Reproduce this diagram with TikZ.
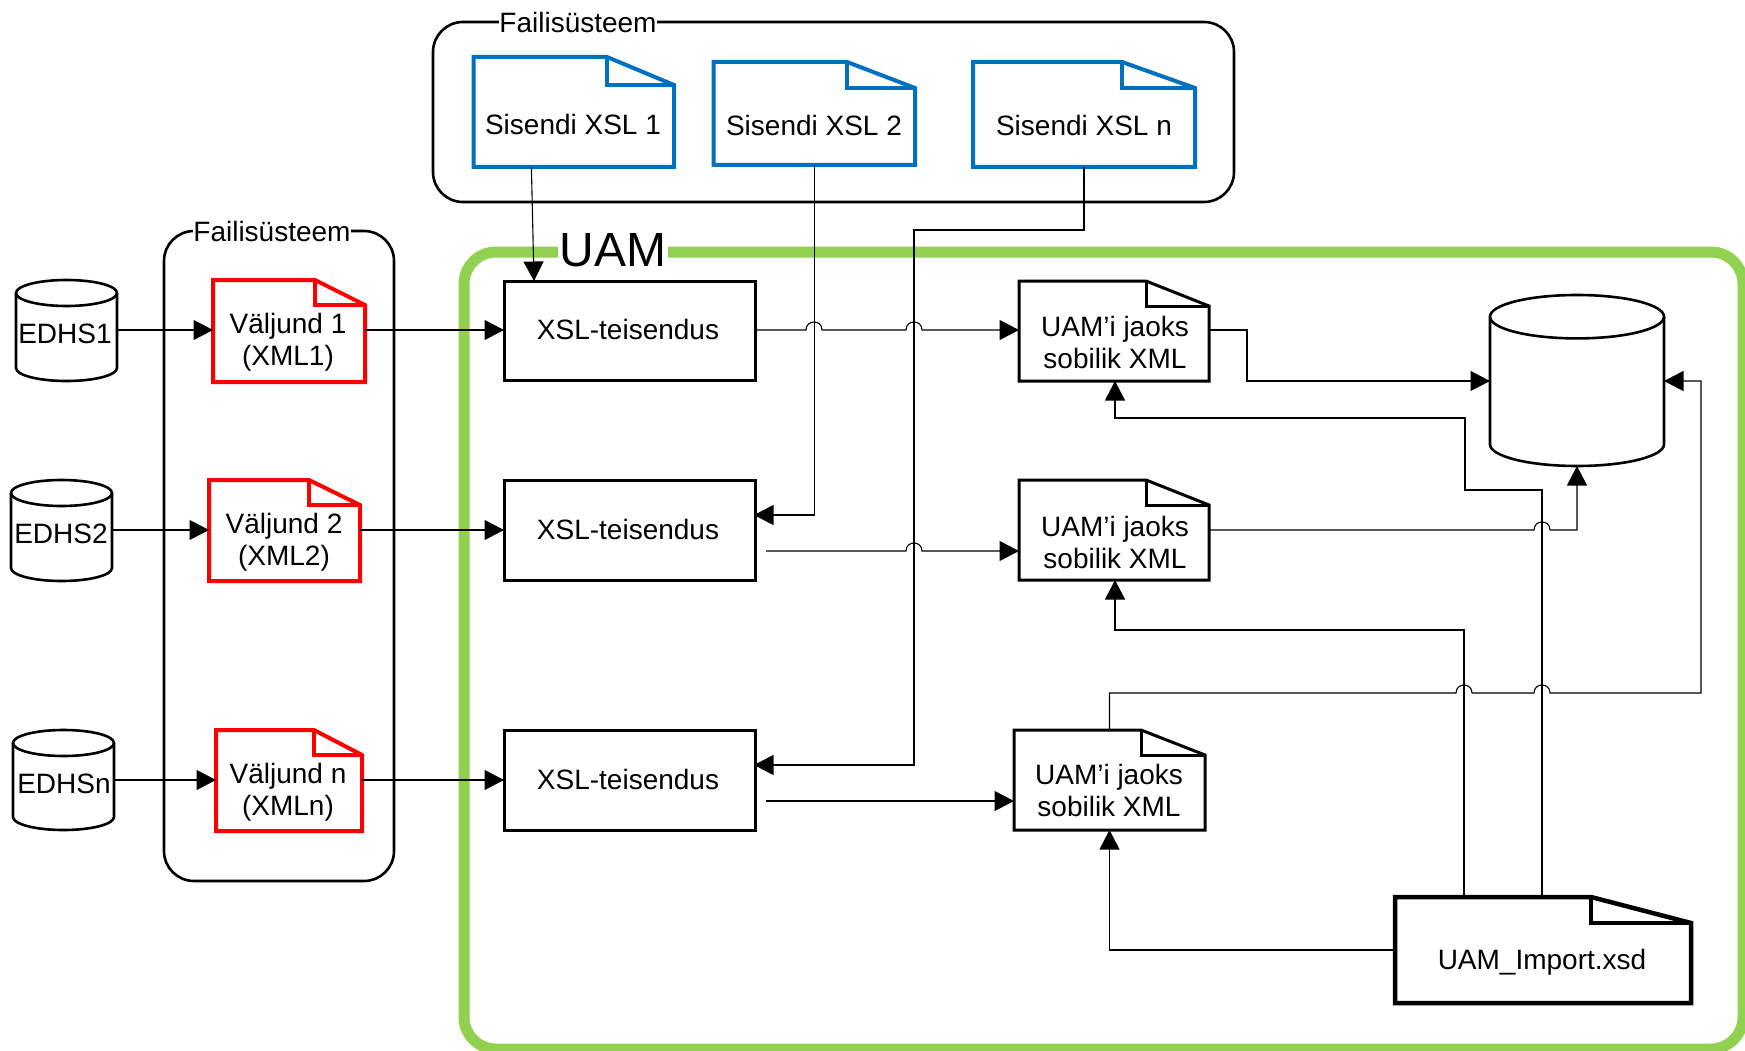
\documentclass[tikz,border=0pt]{standalone}
\usepackage{fontspec}
\setmainfont{Liberation Sans}
\usetikzlibrary{arrows.meta,fit}
\definecolor{uamgreen}{HTML}{92D050}
\definecolor{xslblue}{HTML}{0070C0}
\tikzset{
  x=1pt,y=-1pt,
  conn/.style={draw=black,line width=1.1pt},
  arr/.style={conn,-{Triangle[length=19.5pt,width=20pt]}},
  frame/.style={draw=black,line width=2.6pt,rounded corners=30pt},
  holder/.style={inner sep=0pt,outer sep=0pt},
  txt/.style={font=\fontsize{28}{32}\selectfont,align=center,inner sep=0pt},
  reddoc/.style={draw=red,line width=4pt,line join=miter},
  bluedoc/.style={draw=xslblue,line width=4pt,line join=miter},
  blackdoc/.style={draw=black,line width=3pt,line join=miter},
  bigdoc/.style={draw=black,line width=4.5pt,line join=miter},
  xslbox/.style={draw=black,line width=3pt,holder},
  cyl/.style={draw=black,line width=2.6pt},
}
% #1 name, #2 x1, #3 y1, #4 x2, #5 y2, #6 fold x, #7 fold y, #8 style
\newcommand{\docshape}[8]{%
  \coordinate (#1nw) at (#2,#3);
  \coordinate (#1se) at (#4,#5);
  \node[holder,fit=(#1nw)(#1se)] (#1) {};
  \draw[#8] (#2,#3) -- (#6,#3) -- (#4,#7) -- (#4,#5) -- (#2,#5) -- cycle;
  \draw[#8] (#6,#3) -- (#6,#7) -- (#4,#7);
}
% #1 name, #2 x1, #3 y1, #4 x2, #5 y2, #6 ellipse half height
\newcommand{\cylshape}[6]{%
  \coordinate (#1nw) at (#2,#3);
  \coordinate (#1se) at (#4,#5);
  \node[holder,fit=(#1nw)(#1se)] (#1) {};
  \pgfmathsetmacro{\cylM}{(#2+#4)/2}%
  \pgfmathsetmacro{\cylL}{\cylM-(#4-#2)*0.28}%
  \pgfmathsetmacro{\cylR}{\cylM+(#4-#2)*0.28}%
  \pgfmathsetmacro{\cylYa}{#3+#6}%
  \pgfmathsetmacro{\cylYb}{#3+#6*0.45}%
  \pgfmathsetmacro{\cylYc}{#3+#6*1.55}%
  \pgfmathsetmacro{\cylYd}{#3+#6*2}%
  \pgfmathsetmacro{\cylYe}{#5-#6}%
  \pgfmathsetmacro{\cylYf}{#5-#6*0.45}%
  \draw[cyl] (#2,\cylYa) .. controls (#2,\cylYb) and (\cylL,#3) .. (\cylM,#3)
     .. controls (\cylR,#3) and (#4,\cylYb) .. (#4,\cylYa)
     .. controls (#4,\cylYc) and (\cylR,\cylYd) .. (\cylM,\cylYd)
     .. controls (\cylL,\cylYd) and (#2,\cylYc) .. (#2,\cylYa) -- cycle;
  \draw[cyl] (#2,\cylYa) -- (#2,\cylYe)
     .. controls (#2,\cylYf) and (\cylL,#5) .. (\cylM,#5)
     .. controls (\cylR,#5) and (#4,\cylYf) .. (#4,\cylYe) -- (#4,\cylYa);
}
\def\jmp#1#2{-- (#1-8,#2) .. controls (#1-8,#2-10.67) and (#1+8,#2-10.67) .. (#1+8,#2)}
\begin{document}
\begin{tikzpicture}
\useasboundingbox (0,0) rectangle (1745,1051);
\fill[white] (0,0) rectangle (1745,1051);

% frames
\coordinate (topnw) at (433,22);
\coordinate (topse) at (1234,202);
\draw[frame] (topnw) rectangle (topse);
\node[txt,fill=white] (toplabel) at (578,22) {Failisüsteem};
\coordinate (leftnw) at (164,231);
\coordinate (leftse) at (394,881);
\draw[frame] (leftnw) rectangle (leftse);
\node[txt,fill=white] (leftlabel) at (272,231) {Failisüsteem};
\coordinate (uamnw) at (464,252);
\coordinate (uamse) at (1743,1049);
\draw[draw=uamgreen,line width=11pt,rounded corners=32pt] (uamnw) rectangle (uamse);
\node[txt,fill=white,font=\fontsize{48}{54}\selectfont,inner xsep=2pt,inner ysep=0pt] (uamlabel) at (613,250) {UAM};

% input XSL documents
\docshape{xsla}{473.6}{57}{674}{167}{607}{85}{bluedoc}
\docshape{xslb}{713.5}{62}{915}{165}{847}{88}{bluedoc}
\docshape{xslc}{973}{62}{1195}{167}{1122}{88}{bluedoc}
\node[txt] (xslat) at (573,124) {Sisendi XSL 1};
\node[txt] (xslbt) at (814,125) {Sisendi XSL 2};
\node[txt] (xslct) at (1084,125) {Sisendi XSL n};

% sources
\cylshape{edhsa}{16}{280}{117}{381}{13}
\cylshape{edhsb}{11}{480}{112}{581}{13}
\cylshape{edhsc}{13}{730}{114}{830}{13}
\node[txt] (edhsat) at (65,334) {EDHS1};
\node[txt] (edhsbt) at (61,534) {EDHS2};
\node[txt] (edhsct) at (64,784) {EDHSn};

% outputs
\docshape{outa}{213}{280}{365}{382}{315}{305}{reddoc}
\docshape{outb}{209}{480}{360}{581}{309}{505}{reddoc}
\docshape{outc}{216}{730}{362}{831}{314}{755}{reddoc}
\node[txt] (outat) at (288,342) {Väljund 1\\(XML1)};
\node[txt] (outbt) at (284,542) {Väljund 2\\(XML2)};
\node[txt] (outct) at (288,792) {Väljund n\\(XMLn)};

% transforms
\node[xslbox,minimum width=251pt,minimum height=99pt] (ta) at (629.5,330.5) {};
\node[xslbox,minimum width=251pt,minimum height=100pt] (tb) at (629.5,530) {};
\node[xslbox,minimum width=251pt,minimum height=100pt] (tc) at (629.5,780) {};
\node[txt] (tat) at (628,329) {XSL-teisendus};
\node[txt] (tbt) at (628,529) {XSL-teisendus};
\node[txt] (tct) at (628,779) {XSL-teisendus};

% UAM documents
\docshape{da}{1019}{281}{1209}{381}{1146}{306}{blackdoc}
\docshape{db}{1019}{480}{1209}{580}{1146}{505}{blackdoc}
\docshape{dc}{1014}{730}{1205}{830}{1141}{755}{blackdoc}
\node[txt] (dat) at (1115,342) {UAM’i jaoks\\sobilik XML};
\node[txt] (dbt) at (1115,542) {UAM’i jaoks\\sobilik XML};
\node[txt] (dct) at (1109,790) {UAM’i jaoks\\sobilik XML};

% database
\cylshape{dbase}{1490}{295}{1664}{466}{21.7}

% import schema
\docshape{imp}{1395}{897}{1691}{1003}{1591}{923}{bigdoc}
\node[txt] (impt) at (1542,962) {UAM\_Import.xsd};

% connectors: sources to outputs
\draw[arr] (edhsa.east |- 0,330) -- (outa.west |- 0,330);
\draw[arr] (edhsb.east |- 0,530) -- (outb.west |- 0,530);
\draw[arr] (edhsc.east) -- (outc.west |- edhsc.east);
\draw[arr] (outa.east |- 0,330) -- (ta.west |- 0,330);
\draw[arr] (outb.east |- 0,530) -- (tb.west |- 0,530);
\draw[arr] (outc.east |- 0,780) -- (tc.west |- 0,780);

% connectors: XSL documents to transforms
\coordinate (xslaout) at (531.4,167);
\coordinate (taa) at (534,281);
\draw[arr] (xslaout) -- (taa);
\coordinate (tbin) at (754,515);
\draw[arr] (xslb.south) -- (xslb.south |- tbin) -- (tbin);
\coordinate (xslcbend) at (914,230);
\coordinate (tcin) at (754,765);
\draw[arr] (xslc.south) |- (xslcbend) -- (xslcbend |- tcin) -- (tcin);

% connectors: transforms to UAM documents
\draw[arr] (ta.east |- 0,330) \jmp{814}{330} \jmp{914}{330} -- (da.west |- 0,330);
\coordinate (tbout) at (766,551);
\draw[arr] (tbout) \jmp{914}{551} -- (db.west |- tbout);
\coordinate (tcout) at (766,801);
\draw[arr] (tcout) -- (dc.west |- tcout);

% connectors: UAM documents to database
\coordinate (dabend) at (1247,381);
\draw[arr] (da.east |- 0,330) -| (dabend) -- (dbase.west |- dabend);
\draw[arr] (db.east |- 0,530) \jmp{1542}{530} -- (1577,530) -- (1577,466);
\draw[arr] (dc.north) -- (dc.north |- 0,693) \jmp{1464}{693} \jmp{1542}{693} -- (1701,693) -- (1701,381) -- (dbase.east |- 0,381);

% connectors: schema to UAM documents
\coordinate (impa) at (1542,897);
\coordinate (impb) at (1464,897);
\draw[arr] (impa) -- (1542,490) -- (1465,490) -- (1465,418) -- (1115,418) -- (1115,381);
\draw[arr] (impb) -- (1464,630) -- (1115,630) -- (1115,580);
\coordinate (impc) at (1395,950);
\draw[arr] (impc) -- (dc.south |- impc) -- (dc.south);
\end{tikzpicture}
\end{document}
